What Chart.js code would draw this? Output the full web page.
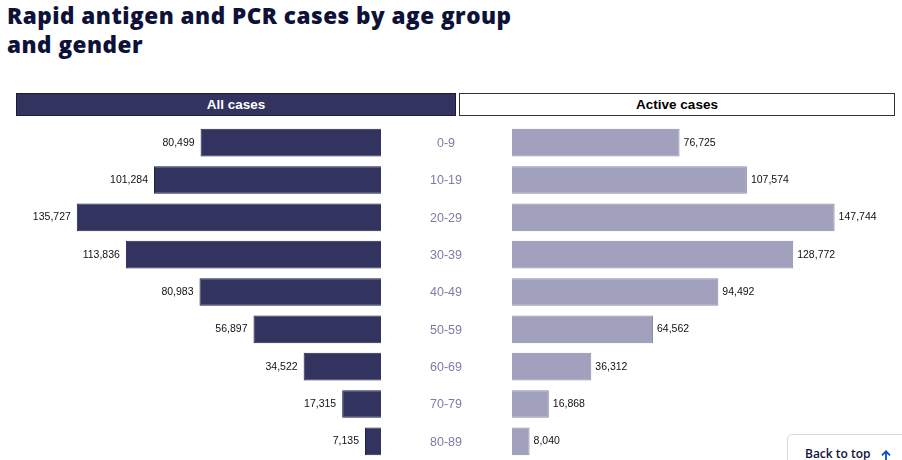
<!DOCTYPE html>
<html>
<head>
<meta charset="utf-8">
<script src="https://cdn.jsdelivr.net/npm/chart.js@4.4.1/dist/chart.umd.min.js"></script>
<style>
  html, body { margin:0; padding:0; background:#fff; width:902px; height:460px; overflow:hidden; position:relative; }
  .title { position:absolute; left:7px; top:1px; font-family:"Open Sans", sans-serif; font-weight:800; font-size:22.5px; letter-spacing:0.5px; line-height:29px; color:#0e1238; margin:0; white-space:nowrap; }
  .hdr { position:absolute; top:93px; height:23px; box-sizing:border-box; font-family:"Liberation Sans", Arial, sans-serif; font-weight:bold; font-size:13.5px; line-height:21px; text-align:center; }
  #hAll { left:16px; width:440px; background:#33335f; border:1px solid #1c1c3a; color:#fff; }
  #hActive { left:459px; width:436px; background:#fff; border:1px solid #333; color:#000; }
  #cLeft { position:absolute; left:0; top:124px; }
  #cRight { position:absolute; left:380px; top:124px; }
  .btt { position:absolute; left:787px; top:434px; width:130px; height:40px; box-sizing:border-box; border:1px solid #d8d8d8; border-radius:5px; background:#fff; font-family:"Open Sans", sans-serif; font-weight:600; font-size:12px; color:#10143a; padding:10px 0 0 17px; }
  .btt svg { position:absolute; left:93px; top:15px; }
</style>
</head>
<body>
<div class="title">Rapid antigen and PCR cases by age group<br>and gender</div>
<div class="hdr" id="hAll">All cases</div>
<div class="hdr" id="hActive">Active cases</div>
<canvas id="cLeft" width="381" height="336"></canvas>
<canvas id="cRight" width="522" height="336"></canvas>
<div class="btt">Back to top<svg width="10" height="11" viewBox="0 0 10 11"><path d="M5 10.5V1.5M1 5.3L5 1.3L9 5.3" stroke="#0a4bd6" stroke-width="1.8" fill="none"/></svg></div>
<script>
const ageGroups = ["0-9","10-19","20-29","30-39","40-49","50-59","60-69","70-79","80-89"];
const allCases = [80499, 101284, 135727, 113836, 80983, 56897, 34522, 17315, 7135];
const activeCases = [76725, 107574, 147744, 128772, 94492, 64562, 36312, 16868, 8040];

const fmt = v => v.toLocaleString('en-US');

function labelPlugin(side) {
  return {
    id: 'valLabels' + side,
    afterDatasetsDraw(chart) {
      const ctx = chart.ctx;
      const meta = chart.getDatasetMeta(0);
      const data = chart.data.datasets[0].data;
      ctx.save();
      ctx.font = '10.5px "Liberation Sans", Arial, sans-serif';
      ctx.fillStyle = '#111';
      ctx.textBaseline = 'middle';
      meta.data.forEach((el, i) => {
        if (side === 'left') {
          ctx.textAlign = 'right';
          ctx.fillText(fmt(data[i]), el.x - 6, el.y);
        } else {
          ctx.textAlign = 'left';
          ctx.fillText(fmt(data[i]), el.x + 4, el.y);
        }
      });
      if (side === 'right') {
        const ys = chart.scales.y;
        ctx.font = '12.5px "Liberation Sans", Arial, sans-serif';
        ctx.fillStyle = '#7d7ba8';
        ctx.textAlign = 'center';
        const cx = chart.chartArea.left - 66;
        chart.data.labels.forEach((lab, i) => {
          ctx.fillText(lab, cx, ys.getPixelForValue(i) + 1);
        });
      }
      ctx.restore();
    }
  };
}

const common = {
  indexAxis: 'y',
  responsive: false,
  animation: false,
  events: [],
  plugins: { legend: { display: false }, tooltip: { enabled: false } }
};

new Chart(document.getElementById('cLeft'), {
  type: 'bar',
  data: {
    labels: ageGroups,
    datasets: [{
      data: allCases,
      backgroundColor: '#33335f',
      borderColor: '#1f1f45',
      borderWidth: 1,
      categoryPercentage: 1,
      barPercentage: 0.74
    }]
  },
  options: Object.assign({}, common, {
    layout: { padding: 0 },
    scales: {
      x: { display: false, reverse: true, min: 0, max: 170000 },
      y: { display: false }
    }
  }),
  plugins: [labelPlugin('left')]
});

new Chart(document.getElementById('cRight'), {
  type: 'bar',
  data: {
    labels: ageGroups,
    datasets: [{
      data: activeCases,
      backgroundColor: '#a1a1bd',
      borderColor: '#8a8aad',
      borderWidth: 1,
      categoryPercentage: 1,
      barPercentage: 0.74
    }]
  },
  options: Object.assign({}, common, {
    layout: { padding: { left: 132, right: 0, top: 0, bottom: 0 } },
    scales: {
      x: { display: false, min: 0, max: 178600 },
      y: { display: false }
    }
  }),
  plugins: [labelPlugin('right')]
});
</script>
</body>
</html>
